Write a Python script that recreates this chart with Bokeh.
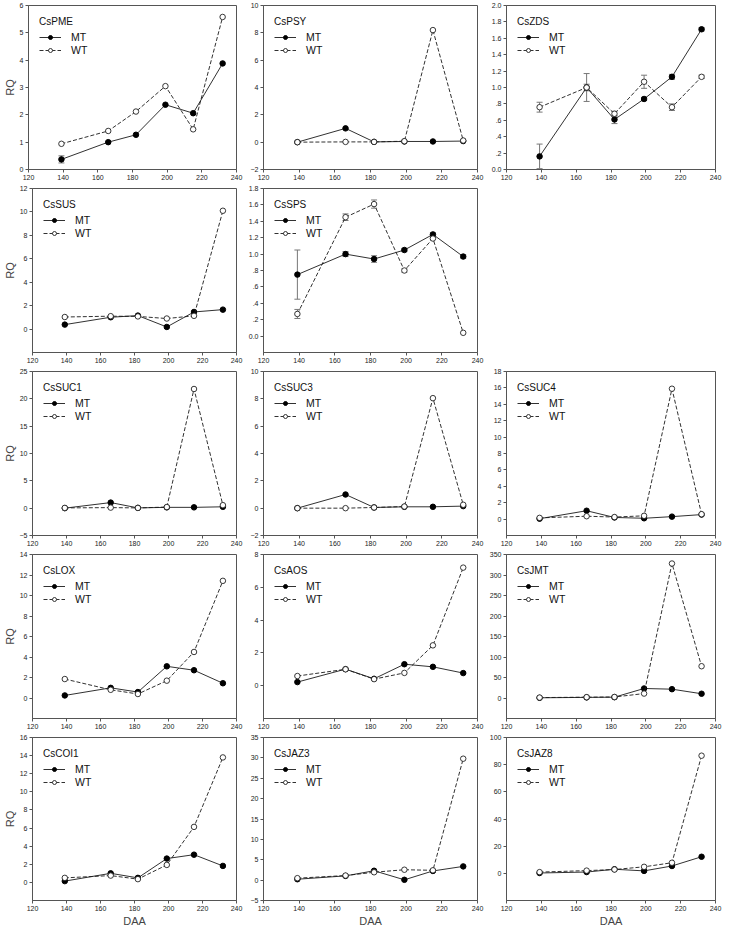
from bokeh.plotting import figure
from bokeh.layouts import column, row
from bokeh.models import (FixedTicker, Range1d, Legend, LegendItem, Whisker,
                          ColumnDataSource, TeeHead)
from bokeh.embed import file_html
from bokeh.resources import INLINE

# ---------------- data ----------------
daa = [139, 166, 182, 199, 215, 232]
x_ticks = [120, 140, 160, 180, 200, 220, 240]

pme_mt = [0.37, 1.00, 1.27, 2.37, 2.06, 3.88]
pme_wt = [0.94, 1.41, 2.12, 3.05, 1.47, 5.58]
pme_mt_err = [0.13, 0, 0, 0, 0, 0]

psy_mt = [0.0, 1.01, 0.02, 0.05, 0.05, 0.08]
psy_wt = [0.0, 0.02, 0.02, 0.07, 8.2, 0.12]

zds_mt = [0.16, 1.00, 0.61, 0.86, 1.13, 1.71]
zds_wt = [0.76, 1.00, 0.68, 1.07, 0.76, 1.13]
zds_mt_err = [0.15, 0.17, 0.05, 0.02, 0.03, 0.02]
zds_wt_err = [0.06, 0.04, 0.03, 0.08, 0.04, 0.02]

sus_mt = [0.38, 1.01, 1.15, 0.18, 1.46, 1.66]
sus_wt = [1.03, 1.10, 1.08, 0.90, 1.13, 10.1]

sps_mt = [0.75, 1.00, 0.94, 1.05, 1.24, 0.97]
sps_wt = [0.27, 1.45, 1.61, 0.80, 1.19, 0.04]
sps_mt_err = [0.30, 0.03, 0.04, 0.02, 0.02, 0.02]
sps_wt_err = [0.055, 0.04, 0.05, 0.02, 0.01, 0.0]

suc1_mt = [0.0, 1.02, 0.05, 0.15, 0.15, 0.25]
suc1_wt = [0.05, 0.1, 0.05, 0.2, 21.8, 0.55]

suc3_mt = [0.0, 1.0, 0.05, 0.1, 0.1, 0.15]
suc3_wt = [0.0, 0.0, 0.05, 0.12, 8.05, 0.25]

suc4_mt = [0.05, 1.02, 0.2, 0.1, 0.3, 0.55]
suc4_wt = [0.15, 0.35, 0.25, 0.4, 15.9, 0.6]

lox_mt = [0.25, 0.99, 0.58, 3.09, 2.71, 1.44]
lox_wt = [1.85, 0.80, 0.39, 1.69, 4.49, 11.43]

aos_mt = [0.22, 1.01, 0.42, 1.31, 1.15, 0.77]
aos_wt = [0.59, 1.00, 0.40, 0.78, 2.46, 7.2]

jmt_mt = [0.5, 1.5, 2.0, 23.2, 21.5, 10.4]
jmt_wt = [1.0, 2.0, 2.5, 10.8, 328.0, 77.5]

coi1_mt = [0.14, 1.0, 0.5, 2.63, 3.06, 1.82]
coi1_wt = [0.5, 0.75, 0.36, 1.93, 6.13, 13.8]

jaz3_mt = [0.22, 1.04, 2.3, 0.08, 2.25, 3.37]
jaz3_wt = [0.48, 1.12, 1.93, 2.55, 2.41, 29.8]

jaz8_mt = [0.25, 0.95, 3.0, 1.8, 5.4, 12.2]
jaz8_wt = [0.9, 2.0, 2.8, 4.8, 7.8, 86.6]

# y ranges and tick lists
pme_y = (0, 6);      pme_ticks = [0, 1, 2, 3, 4, 5, 6]
psy_y = (-2, 10);    psy_ticks = [-2, 0, 2, 4, 6, 8, 10]
zds_y = (0, 2.0);    zds_ticks = [0, 0.2, 0.4, 0.6, 0.8, 1.0, 1.2, 1.4, 1.6, 1.8, 2.0]
zds_labels = ["0.0", ".2", ".4", ".6", ".8", "1.0", "1.2", "1.4", "1.6", "1.8", "2.0"]
sus_y = (-2, 12);    sus_ticks = [0, 2, 4, 6, 8, 10, 12]
sps_y = (-0.2, 1.8); sps_ticks = [0, 0.2, 0.4, 0.6, 0.8, 1.0, 1.2, 1.4, 1.6, 1.8]
sps_labels = ["0.0", ".2", ".4", ".6", ".8", "1.0", "1.2", "1.4", "1.6", "1.8"]
suc1_y = (-5, 25);   suc1_ticks = [-5, 0, 5, 10, 15, 20, 25]
suc3_y = (-2, 10);   suc3_ticks = [-2, 0, 2, 4, 6, 8, 10]
suc4_y = (-2, 18);   suc4_ticks = [0, 2, 4, 6, 8, 10, 12, 14, 16, 18]
lox_y = (-2, 14);    lox_ticks = [0, 2, 4, 6, 8, 10, 12, 14]
aos_y = (-2, 8);     aos_ticks = [0, 2, 4, 6, 8]
jmt_y = (-50, 350);  jmt_ticks = [0, 50, 100, 150, 200, 250, 300, 350]
coi1_y = (-2, 16);   coi1_ticks = [0, 2, 4, 6, 8, 10, 12, 14, 16]
jaz3_y = (-5, 35);   jaz3_ticks = [-5, 0, 5, 10, 15, 20, 25, 30, 35]
jaz8_y = (-20, 100); jaz8_ticks = [0, 20, 40, 60, 80, 100]

FONT = "Liberation Sans"
AX = "#555555"
LINE = "#1a1a1a"

COLS = [  # (min_border_left, width)
    (28, 245),
    (18, 241),
    (20, 238),
]
TOP, FRAME_H, BOT = 5, 164, 14


def panel(name, mt, wt, yr, ticks, col, last_row, labels=None,
          mt_err=None, wt_err=None):
    bl, w = COLS[col]
    bottom = BOT + (14 if last_row else 0)
    h = TOP + FRAME_H + bottom
    p = figure(width=w, height=h, output_backend="svg", toolbar_location=None,
               x_range=Range1d(120, 240), y_range=Range1d(*yr),
               min_border_left=bl, min_border_right=9, min_border_top=TOP,
               min_border_bottom=bottom)
    p.grid.visible = False
    p.outline_line_color = AX
    p.outline_line_width = 1
    p.background_fill_color = "white"
    p.border_fill_color = "white"
    for ax in (p.xaxis[0], p.yaxis[0]):
        ax.axis_line_color = AX
        ax.major_tick_line_color = AX
        ax.major_tick_in = 0
        ax.major_tick_out = 3
        ax.minor_tick_line_color = None
        ax.major_label_text_font = FONT
        ax.major_label_text_font_size = "7px"
        ax.major_label_text_color = "#222222"
        ax.major_label_standoff = 2
        ax.axis_label_text_font = FONT
        ax.axis_label_text_font_size = "11px"
        ax.axis_label_text_font_style = "normal"
        ax.axis_label_standoff = 1
    p.xaxis.ticker = FixedTicker(ticks=x_ticks)
    p.yaxis.ticker = FixedTicker(ticks=ticks)
    if labels is not None:
        p.yaxis.major_label_overrides = {t: l for t, l in zip(ticks, labels)}
    if col == 0:
        p.yaxis.axis_label = "RQ"
    if last_row:
        p.xaxis.axis_label = "DAA"

    for series, err in ((mt, mt_err), (wt, wt_err)):
        if err is None:
            continue
        xs = [x for x, e in zip(daa, err) if e > 0]
        ys = [y for y, e in zip(series, err) if e > 0]
        es = [e for e in err if e > 0]
        src = ColumnDataSource(dict(x=xs, lo=[y - e for y, e in zip(ys, es)],
                                    hi=[y + e for y, e in zip(ys, es)]))
        wk = Whisker(base="x", lower="lo", upper="hi", source=src,
                     line_color="#777777", line_width=1,
                     upper_head=TeeHead(size=6, line_color="#777777"),
                     lower_head=TeeHead(size=6, line_color="#777777"),
                     level="underlay")
        p.add_layout(wk)

    l_mt = p.line(daa, mt, line_color=LINE, line_width=0.9)
    s_mt = p.scatter(daa, mt, size=5.5, fill_color="black", line_color="black")
    l_wt = p.line(daa, wt, line_color=LINE, line_width=0.9, line_dash="4 2")
    s_wt = p.scatter(daa, wt, size=5.5, fill_color="white", line_color="#222222",
                     line_width=0.9)

    leg = Legend(items=[LegendItem(label="MT", renderers=[l_mt, s_mt]),
                        LegendItem(label="WT", renderers=[l_wt, s_wt])],
                 title=name, location="top_left")
    leg.title_text_font = FONT
    leg.title_text_font_size = "10px"
    leg.title_text_font_style = "normal"
    leg.title_text_color = "#111111"
    leg.title_standoff = 4
    leg.label_text_font = FONT
    leg.label_text_font_size = "10.5px"
    leg.label_text_color = "#111111"
    leg.glyph_width = 22
    leg.glyph_height = 10
    leg.label_height = 10
    leg.label_standoff = 10
    leg.spacing = 1
    leg.padding = 4
    leg.margin = 7
    leg.background_fill_alpha = 0
    leg.border_line_alpha = 0
    p.add_layout(leg)
    return p


r1 = row(panel("CsPME", pme_mt, pme_wt, pme_y, pme_ticks, 0, False, mt_err=pme_mt_err),
         panel("CsPSY", psy_mt, psy_wt, psy_y, psy_ticks, 1, False),
         panel("CsZDS", zds_mt, zds_wt, zds_y, zds_ticks, 2, False, labels=zds_labels,
               mt_err=zds_mt_err, wt_err=zds_wt_err))
r2 = row(panel("CsSUS", sus_mt, sus_wt, sus_y, sus_ticks, 0, False),
         panel("CsSPS", sps_mt, sps_wt, sps_y, sps_ticks, 1, False, labels=sps_labels,
               mt_err=sps_mt_err, wt_err=sps_wt_err))
r3 = row(panel("CsSUC1", suc1_mt, suc1_wt, suc1_y, suc1_ticks, 0, False),
         panel("CsSUC3", suc3_mt, suc3_wt, suc3_y, suc3_ticks, 1, False),
         panel("CsSUC4", suc4_mt, suc4_wt, suc4_y, suc4_ticks, 2, False))
r4 = row(panel("CsLOX", lox_mt, lox_wt, lox_y, lox_ticks, 0, False),
         panel("CsAOS", aos_mt, aos_wt, aos_y, aos_ticks, 1, False),
         panel("CsJMT", jmt_mt, jmt_wt, jmt_y, jmt_ticks, 2, False))
r5 = row(panel("CsCOI1", coi1_mt, coi1_wt, coi1_y, coi1_ticks, 0, True),
         panel("CsJAZ3", jaz3_mt, jaz3_wt, jaz3_y, jaz3_ticks, 1, True),
         panel("CsJAZ8", jaz8_mt, jaz8_wt, jaz8_y, jaz8_ticks, 2, True))

layout = column(r1, r2, r3, r4, r5)
open("out.html", "w").write(file_html(layout, INLINE))
